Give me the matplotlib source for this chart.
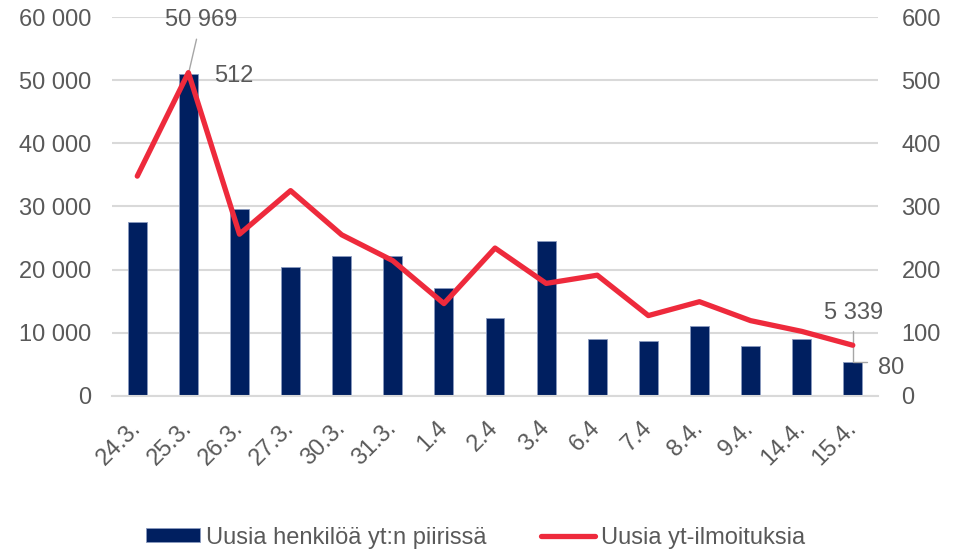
import numpy as np
import matplotlib.pyplot as plt

plt.rcParams['font.family'] = ['Liberation Sans', 'DejaVu Sans']

# data
dates = ["24.3.", "25.3.", "26.3.", "27.3.", "30.3.", "31.3.", "1.4", "2.4",
         "3.4", "6.4", "7.4", "8.4.", "9.4.", "14.4.", "15.4."]
persons = [27550, 50969, 29600, 20450, 22150, 22150, 17100, 12350,
           24550, 8950, 8600, 11000, 7900, 8950, 5339]
notices = [348, 512, 256, 325, 255, 214, 146, 234,
           178, 191, 127, 149, 119, 102, 80]
left_ticks = [0, 10000, 20000, 30000, 40000, 50000, 60000]
right_ticks = [0, 100, 200, 300, 400, 500, 600]

NAVY = "#001F60"
RED = "#EE2A3C"
GREY = "#595959"
GRID = "#D9D9D9"
FS = 17


def fmt_thousands(v):
    return f"{v:,}".replace(",", " ")


fig = plt.figure(figsize=(9.54, 5.5), dpi=100)
ax = fig.add_axes([0.1171, 0.2805, 0.8036, 0.6884])
ax2 = ax.twinx()

x = np.arange(len(dates))
bars = ax.bar(x, persons, width=0.37, color=NAVY, edgecolor="#8A9BBF",
              linewidth=0.6, zorder=2, label="Uusia henkilöä yt:n piirissä")
line, = ax2.plot(x, notices, color=RED, lw=3.8, solid_capstyle="round",
                 zorder=3, label="Uusia yt-ilmoituksia")

ax.set_xlim(-0.5, len(dates) - 0.5)
ax.set_ylim(0, 60000)
ax2.set_ylim(0, 600)
ax.set_yticks(left_ticks)
ax.set_yticklabels([fmt_thousands(v) for v in left_ticks])
ax2.set_yticks(right_ticks)
ax2.set_yticklabels([str(v) for v in right_ticks])
ax.set_xticks(x)
ax.set_xticklabels(dates, rotation=45, ha="right", va="center",
                   rotation_mode="anchor")

ax.grid(axis="y", color=GRID, lw=1.5, zorder=0)
ax.set_axisbelow(True)
for a in (ax, ax2):
    for s in a.spines.values():
        s.set_visible(False)
    a.tick_params(length=0, labelsize=FS, labelcolor=GREY)
ax.tick_params(axis="y", pad=14.4)
ax2.tick_params(axis="y", pad=16.6)
ax.tick_params(axis="x", pad=21)
ax.spines["bottom"].set_visible(True)
ax.spines["bottom"].set_color(GRID)
ax.spines["bottom"].set_linewidth(1.5)
ax2.set_zorder(ax.get_zorder() + 1)

# data labels with leader lines
ax.annotate(fmt_thousands(persons[1]), xy=(1, persons[1]),
            xytext=(1.247, 59540), textcoords="data", ha="center", va="center",
            fontsize=FS, color=GREY,
            arrowprops=dict(arrowstyle="-", color="#A6A6A6", lw=1,
                            shrinkA=4, shrinkB=0))
ax2.text(1.502, 506.6, str(notices[1]), ha="left", va="center",
         fontsize=FS, color=GREY)
ax.annotate(fmt_thousands(persons[-1]), xy=(14.28, persons[-1]),
            xytext=(14.007, 13106), textcoords="data", ha="center", va="center",
            fontsize=FS, color=GREY,
            arrowprops=dict(arrowstyle="-", color="#A6A6A6", lw=1,
                            connectionstyle="angle,angleA=90,angleB=0,rad=0",
                            shrinkA=3, shrinkB=0))
ax2.text(14.496, 43.9, str(notices[-1]), ha="left", va="center",
         fontsize=FS, color=GREY)

fig.legend([bars, line], [bars.get_label(), line.get_label()],
           loc="center left", bbox_to_anchor=(0.1527, 0.0227),
           borderaxespad=0, borderpad=0, ncol=2, frameon=False,
           fontsize=FS, labelcolor=GREY, handlelength=2.3,
           handleheight=0.5, handletextpad=0.25, columnspacing=2.3)

fig.savefig("out.png", dpi=100)
